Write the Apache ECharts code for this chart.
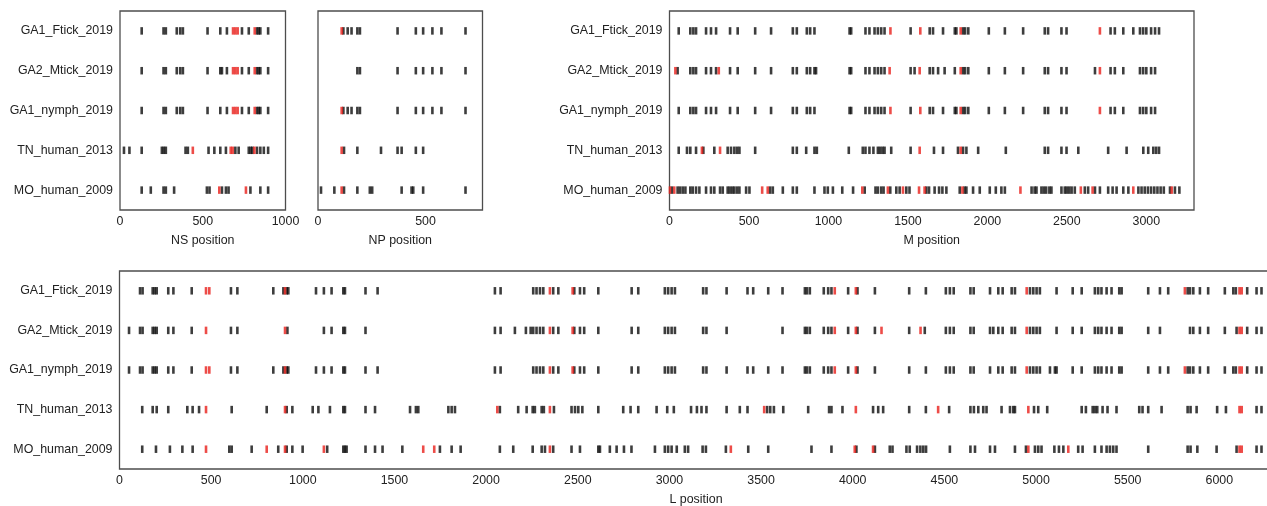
<!DOCTYPE html>
<html>
<head>
<meta charset="utf-8">
<script src="https://cdn.jsdelivr.net/npm/echarts@6/dist/echarts.min.js"></script>
<style>
html,body{margin:0;padding:0;background:#fff;}
#chart{width:1267px;height:506px;}
</style>
</head>
<body>
<div id="chart"></div>
<script>
const categories = ['GA1_Ftick_2019','GA2_Mtick_2019','GA1_nymph_2019','TN_human_2013','MO_human_2009'];

// NS panel positions (rows follow categories)
const nsBlack = [
  [131,263,277,343,364,380,529,606,646,737,778,828,838,848,895],
  [131,263,277,343,364,380,529,606,616,646,737,778,828,838,848,895],
  [131,263,277,343,364,380,529,606,646,737,778,828,838,848,895],
  [24,57,131,253,265,277,396,410,535,570,606,640,697,717,778,790,800,828,848,869,895],
  [131,186,263,277,327,525,541,616,640,656,788,848,895]
];
const nsRed = [
  [683,697,711,814],
  [683,697,711,814],
  [683,697,711,814],
  [440,669,681,812],
  [600,761]
];

// NP panel positions
const npBlack = [
  [118,138,156,183,195,370,455,489,532,574,686],
  [183,195,370,455,489,532,574,686],
  [118,138,156,183,195,370,455,489,532,574,686],
  [121,183,293,370,389,455,489],
  [14,76,121,183,241,252,389,435,443,489,686]
];
const npRed = [[110],[],[110],[110],[110]];

// M panel positions
const mBlack = [
  [58,131,150,167,230,261,293,381,429,539,639,776,801,864,885,912,1133,1143,1233,1258,1290,1311,1332,1353,1517,1637,1658,1721,1795,1805,1847,1860,1880,2009,2110,2225,2361,2382,2466,2498,2775,2802,2855,2918,2960,2980,3000,3030,3055,3080],
  [51,131,150,167,230,261,293,381,429,539,639,776,801,864,885,912,922,1133,1143,1233,1258,1290,1311,1332,1353,1517,1542,1637,1658,1690,1731,1795,1847,1860,1880,2009,2110,2225,2361,2382,2466,2498,2677,2775,2802,2855,2960,2980,3000,3030,3055],
  [58,131,150,167,230,261,293,381,429,539,639,776,801,864,885,912,1133,1143,1233,1258,1290,1311,1332,1353,1517,1637,1658,1721,1795,1805,1847,1860,1880,2009,2110,2225,2361,2382,2466,2498,2775,2802,2855,2960,2980,3000,3030,3055],
  [58,110,131,167,213,282,366,387,408,425,440,539,776,801,860,912,927,1128,1216,1233,1258,1283,1311,1325,1340,1353,1395,1517,1664,1721,1815,1847,1868,1942,2116,2361,2382,2466,2498,2572,2760,2876,2981,3012,3044,3062,3080],
  [15,51,66,83,100,131,146,167,188,230,261,282,318,335,366,380,395,408,425,440,482,503,633,650,713,776,801,912,975,996,1028,1087,1155,1228,1296,1311,1332,1347,1389,1427,1448,1490,1510,1616,1633,1668,1696,1717,1742,1826,1856,1868,1910,1952,2015,2053,2088,2110,2278,2297,2309,2340,2355,2370,2390,2403,2466,2487,2500,2515,2530,2550,2613,2634,2677,2708,2760,2788,2813,2855,2887,2950,2970,2990,3010,3030,3050,3070,3090,3110,3149,3180,3208]
];
const mRed = [
  [1390,1578,1832,2708],
  [37,310,1385,1574,1832,2708],
  [1390,1578,1832,2708],
  [204,318,1574,1832],
  [3,30,583,618,1213,1374,1469,1570,1605,1843,2208,2588,2662,2918,3160]
];

// L panel positions
const lBlack = [
  [112,126,181,192,203,266,294,394,608,643,839,894,912,921,1072,1115,1157,1221,1230,1342,1408,2048,2079,2257,2275,2294,2312,2366,2394,2481,2512,2535,2612,2794,2830,2975,2993,3012,3030,3184,3202,3312,3426,3457,3539,3617,3739,3750,3766,3842,3866,3884,3975,4026,4121,4308,4399,4508,4530,4551,4642,4660,4749,4794,4818,4867,4885,4967,4985,5003,5021,5112,5200,5249,5321,5339,5357,5385,5412,5454,5467,5612,5676,5721,5827,5840,5858,5894,5939,6030,6076,6090,6152,6203,6230],
  [52,112,126,181,192,203,266,294,394,608,643,916,1115,1157,1221,1230,1342,2048,2079,2157,2217,2243,2257,2275,2294,2312,2366,2394,2481,2512,2535,2612,2794,2830,2975,2993,3012,3030,3184,3202,3312,3617,3739,3750,3766,3842,3866,3884,3975,4026,4121,4308,4393,4508,4530,4551,4642,4660,4749,4767,4794,4818,4867,4885,4967,4985,5003,5021,5112,5200,5249,5321,5339,5357,5385,5412,5454,5467,5612,5676,5840,5858,5894,5939,6030,6094,6152,6203,6230],
  [52,112,126,181,192,203,266,294,394,608,643,839,894,912,921,1072,1115,1157,1221,1230,1342,1408,2048,2079,2257,2275,2294,2312,2366,2394,2481,2512,2535,2612,2794,2830,2975,2993,3012,3030,3184,3202,3312,3426,3457,3539,3617,3739,3750,3766,3842,3866,3884,3975,4026,4121,4308,4399,4508,4530,4551,4642,4660,4749,4794,4818,4867,4885,4967,4985,5003,5021,5076,5103,5112,5200,5249,5321,5339,5357,5385,5412,5454,5467,5612,5676,5721,5827,5840,5858,5894,5939,6030,6076,6090,6152,6203,6230],
  [124,181,203,266,370,399,434,612,803,912,943,1054,1085,1148,1221,1230,1342,1394,1585,1617,1630,1794,1812,1830,2075,2175,2221,2254,2266,2303,2315,2370,2466,2485,2503,2525,2612,2748,2788,2830,2930,2988,3024,3118,3150,3175,3202,3312,3384,3426,3533,3550,3570,3621,3757,3871,3884,3944,4111,4139,4166,4308,4399,4526,4642,4661,4685,4712,4730,4812,4858,4876,4885,4989,5012,5061,5249,5272,5309,5322,5334,5363,5390,5439,5563,5581,5612,5685,5827,5843,5876,5988,6036,6203,6230],
  [124,199,275,343,399,599,612,721,866,912,943,999,1133,1221,1230,1239,1342,1394,1435,1543,1748,1812,1861,2075,2148,2254,2303,2321,2366,2466,2512,2612,2621,2675,2712,2752,2793,2921,2975,2993,3012,3040,3084,3102,3181,3199,3308,3430,3539,3775,3884,4020,4121,4202,4217,4293,4311,4351,4369,4385,4400,4530,4642,4667,4749,4776,4885,4945,4994,5012,5030,5100,5125,5149,5230,5254,5321,5357,5385,5403,5421,5439,5612,5827,5843,5880,5985,6094,6203,6230]
];
const lRed = [
  [472,490,903,2348,2472,3902,4017,4949,5812,6110,6122],
  [472,903,2348,2472,3902,4017,4157,4370,4949,6110,6122],
  [472,490,903,2348,2472,3902,4017,4949,5812,6110,6122],
  [472,903,2061,2348,3517,4017,4466,4958,6110,6122],
  [472,803,903,1115,1657,1717,2348,3335,4011,4111,4958,5176,6110,6122]
];

const BLACK = '#0d0d0d';
const RED = '#e81f1a';
const TXT = '#222222';
const FONT = 'Liberation Sans, Arial, sans-serif';
const FS = 12.4;

function toPoints(rows) {
  const out = [];
  rows.forEach((arr, i) => arr.forEach(x => out.push([x, i])));
  return out;
}

const panels = [
  {left:120, top:11, width:165.5, height:199, max:1000, name:'NS position', labels:true, black:nsBlack, red:nsRed},
  {left:318, top:11, width:164.5, height:199, max:765, name:'NP position', labels:false, black:npBlack, red:npRed},
  {left:669.5, top:11, width:524.5, height:199, max:3300, name:'M position', labels:true, black:mBlack, red:mRed},
  {left:119.5, top:271, width:1153, height:198, max:6290, name:'L position', labels:true, black:lBlack, red:lRed}
];

const grid = [], xAxis = [], yAxis = [], series = [];
panels.forEach((p, i) => {
  grid.push({left:p.left, top:p.top, width:p.width, height:p.height, show:true,
    borderColor:'#4d4d4d', borderWidth:1.3, backgroundColor:'transparent',
    containLabel:false, outerBoundsMode:'none'});
  xAxis.push({type:'value', gridIndex:i, min:0, max:p.max, interval:500,
    name:p.name, nameLocation:'middle', nameGap:25,
    nameTextStyle:{fontSize:FS, color:TXT, fontFamily:FONT},
    axisLine:{show:false}, axisTick:{show:false}, splitLine:{show:false},
    axisLabel:{margin:6, fontSize:FS, color:TXT, fontFamily:FONT,
      formatter: v => (v % 500 === 0 ? String(v) : '')}});
  yAxis.push({type:'category', gridIndex:i, data:categories, inverse:true,
    axisLine:{show:false}, axisTick:{show:false}, splitLine:{show:false},
    axisLabel:{show:p.labels, margin:7, fontSize:FS, color:TXT, fontFamily:FONT}});
  series.push({type:'scatter', xAxisIndex:i, yAxisIndex:i, symbol:'rect', symbolSize:[2.6,7.5],
    itemStyle:{color:BLACK}, data:toPoints(p.black), silent:true, animation:false});
  series.push({type:'scatter', xAxisIndex:i, yAxisIndex:i, symbol:'rect', symbolSize:[2.6,7.5],
    itemStyle:{color:RED}, data:toPoints(p.red), silent:true, animation:false, z:3});
});

const chart = echarts.init(document.getElementById('chart'), null, {renderer:'canvas'});
chart.setOption({backgroundColor:'#ffffff', animation:false, grid, xAxis, yAxis, series});
</script>
</body>
</html>
